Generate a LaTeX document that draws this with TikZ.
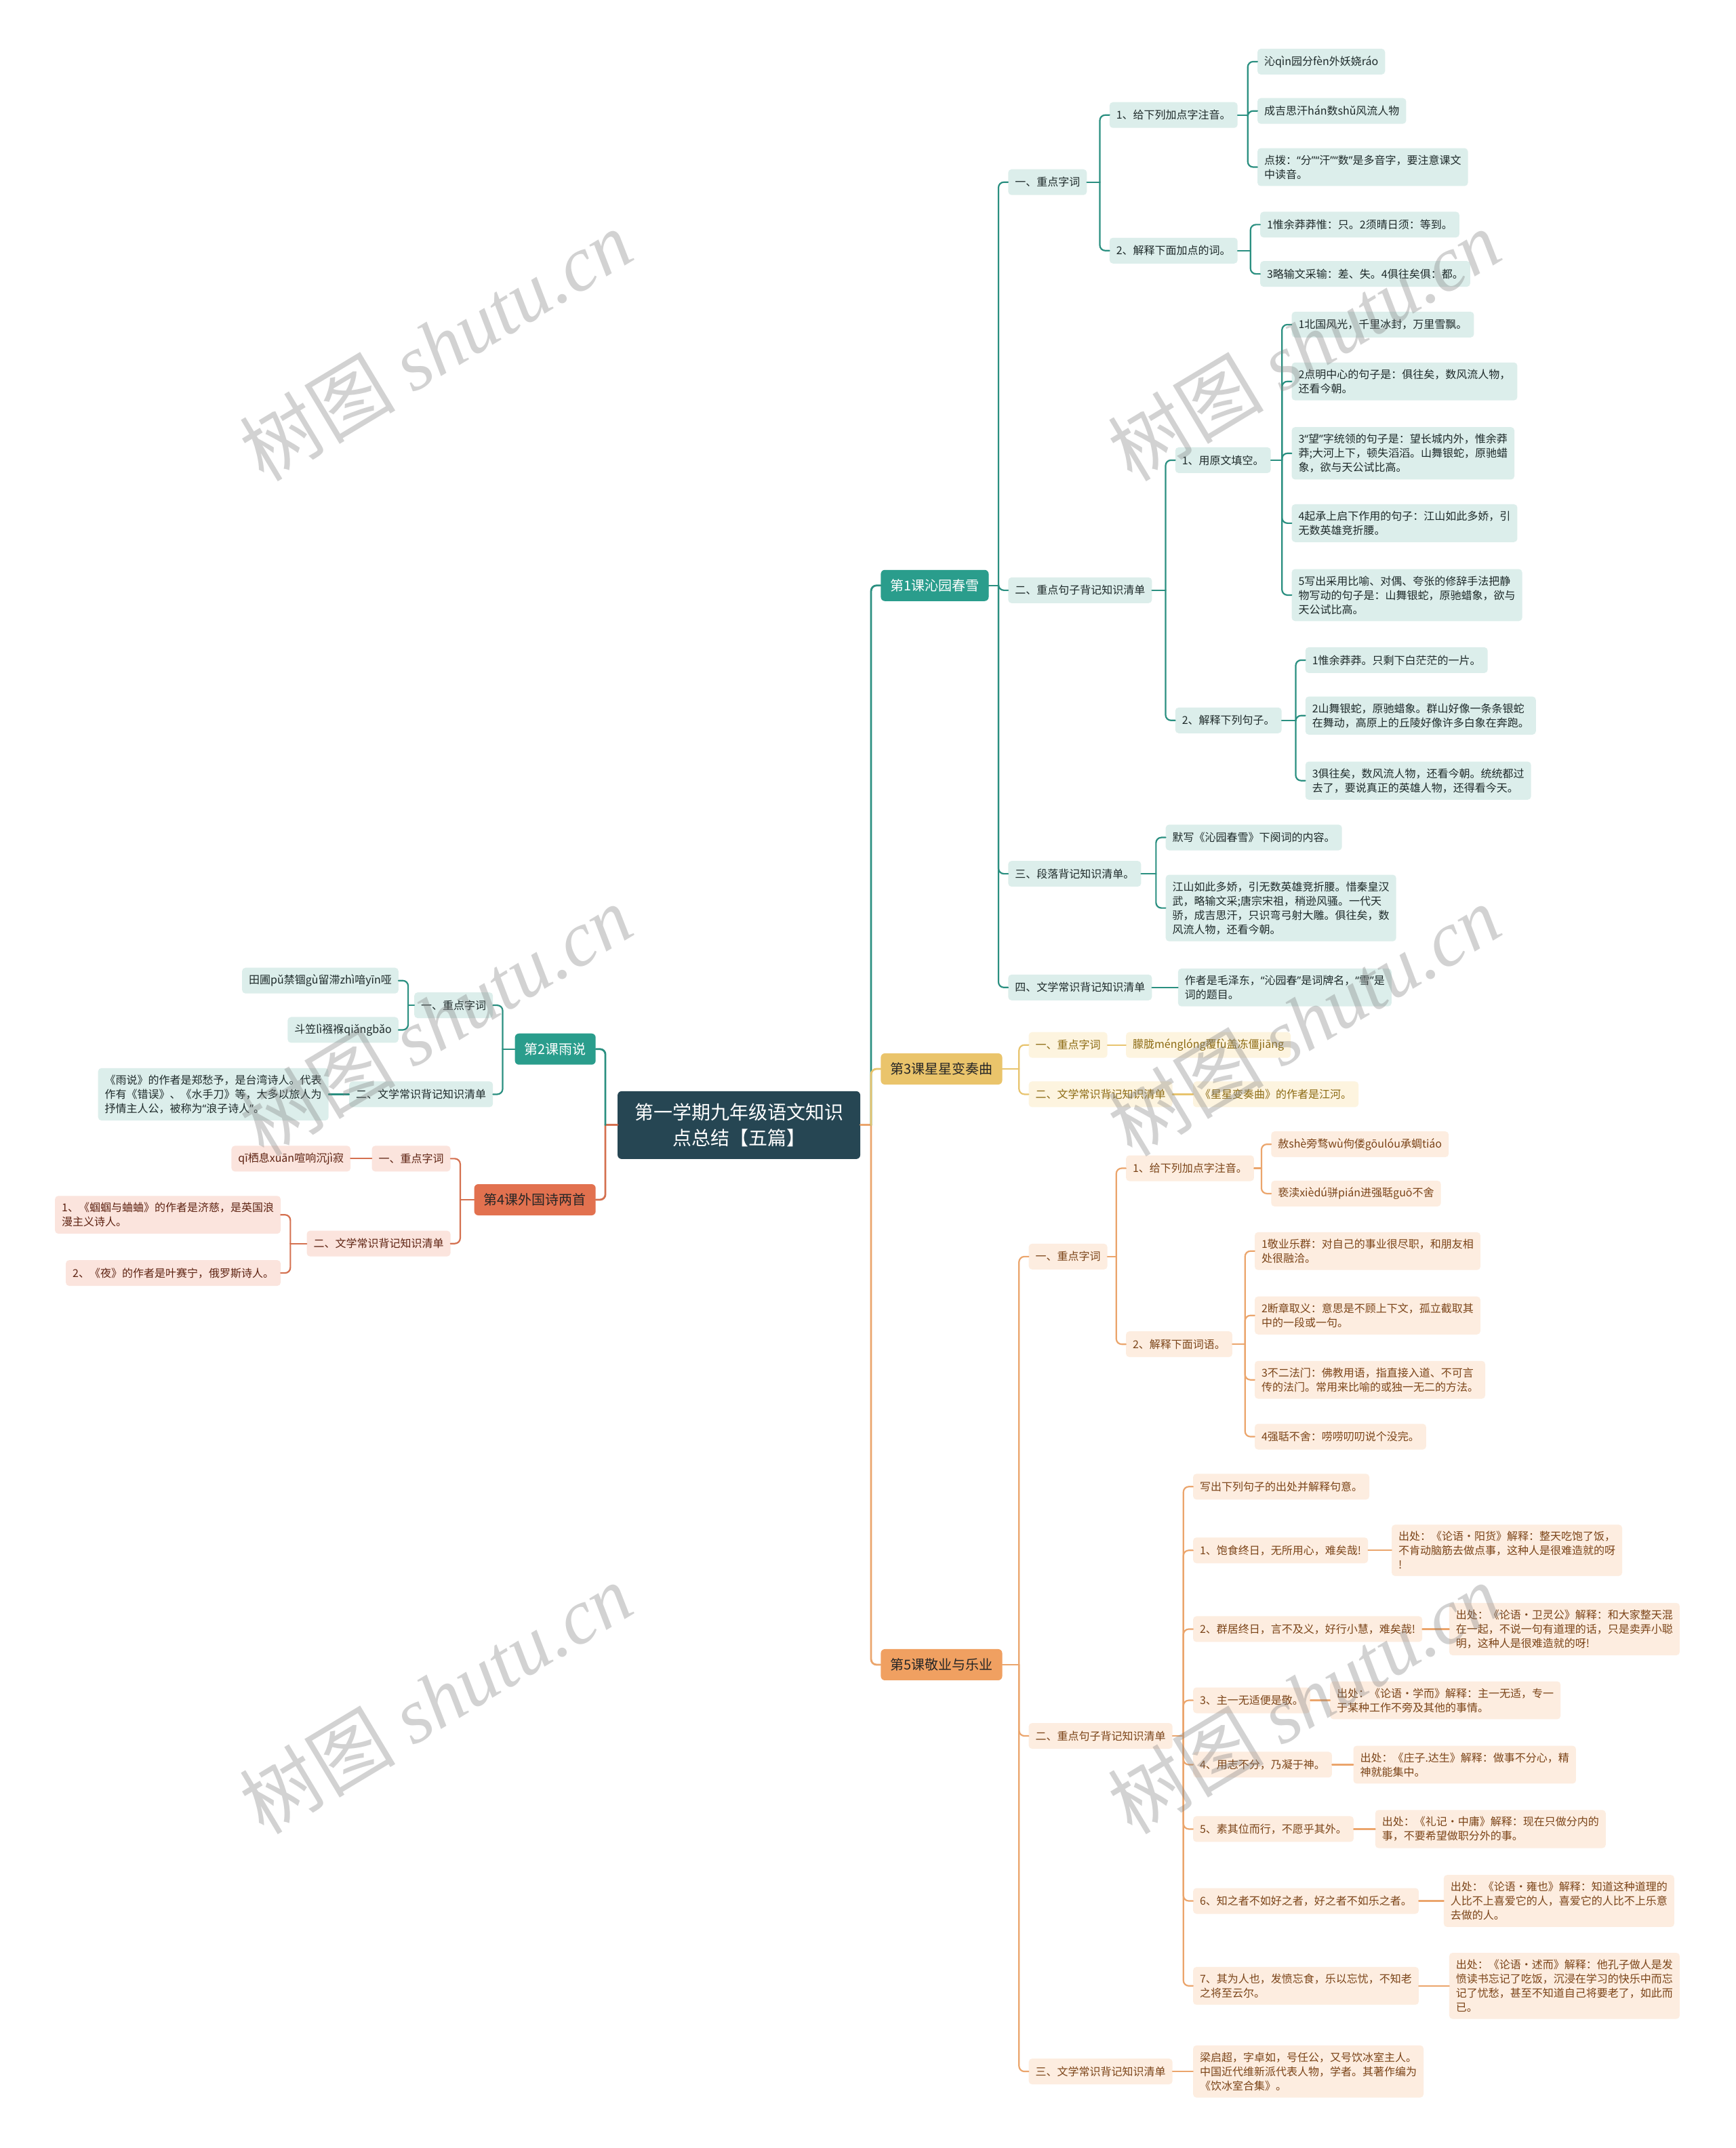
\documentclass[tikz,border=0pt]{standalone}
\usepackage{fontspec}
\setmainfont{Noto Sans CJK SC}
\newfontfamily\wmserif{Liberation Serif}
\newfontfamily\qfont{Noto Sans}
\newcommand\oq{{\qfont “}}
\newcommand\cq{{\qfont ”}}
\definecolor{rootc}{HTML}{264653}
\definecolor{tealM}{HTML}{2A9D8C}
\definecolor{tealL}{HTML}{2A8F80}
\definecolor{tealF}{HTML}{DCEEEB}
\definecolor{tealT}{HTML}{1E2A2A}
\definecolor{goldM}{HTML}{EAC46B}
\definecolor{goldL}{HTML}{E8C46E}
\definecolor{goldF}{HTML}{FDF4DF}
\definecolor{goldT}{HTML}{8C6A12}
\definecolor{redM}{HTML}{E2714F}
\definecolor{redL}{HTML}{D4704F}
\definecolor{redF}{HTML}{FBE4DD}
\definecolor{redT}{HTML}{5E2312}
\definecolor{orM}{HTML}{F0A061}
\definecolor{orL}{HTML}{EBA56C}
\definecolor{orF}{HTML}{FDEDE0}
\definecolor{orT}{HTML}{7B4418}
\newcommand\rbus[3]{\path (#3.west) ++(-7,0) coordinate (#2X); \draw[#1] (#2.east) -- (#2.east -| #2X) coordinate (#2B);}
\newcommand\rkid[3]{\draw[#1,rounded corners=8pt] (#2B) |- (#3.west);}
\newcommand\lbus[3]{\path (#3.east) ++(7,0) coordinate (#2X); \draw[#1] (#2.west) -- (#2.west -| #2X) coordinate (#2B);}
\newcommand\lkid[3]{\draw[#1,rounded corners=8pt] (#2B) |- (#3.east);}
\newcommand\rone[3]{\draw[#1] (#2.east) -- (#3.west);}
\newcommand\lone[3]{\draw[#1] (#2.west) -- (#3.east);}
\begin{document}
\begin{tikzpicture}[x=2.0205pt,y=-2.0205pt,
 nbase/.style={rounded corners=5pt, inner xsep=10pt, inner ysep=10pt, minimum height=38pt, align=left, font=\fontsize{16}{21}\selectfont},
 tbox/.style={nbase, fill=tealF, text=tealT},
 gbox/.style={nbase, fill=goldF, text=goldT},
 rbox/.style={nbase, fill=redF, text=redT},
 obox/.style={nbase, fill=orF, text=orT},
 mainbox/.style={rounded corners=6pt, inner xsep=14pt, minimum height=46pt, font=\fontsize{20}{24}\selectfont},
 rootbox/.style={rounded corners=6pt, fill=rootc, text=white, align=center, minimum width=358pt, minimum height=100pt, font=\fontsize{28}{38}\selectfont},
 aw/.style={anchor=west}, ae/.style={anchor=east},
 tline/.style={draw=tealL, line width=2.2pt, line cap=round},
 gline/.style={draw=goldL, line width=2.2pt, line cap=round},
 rline/.style={draw=redL, line width=2.2pt, line cap=round},
 oline/.style={draw=orL, line width=2.2pt, line cap=round},
 wm/.style={rotate=31, text=gray, opacity=0.35}
]
\fill[white] (0,0) rectangle (1267,1568.4);
\useasboundingbox (0,0) rectangle (1267,1568.4);

% root
\node[rootbox] (root) at (539.5,821.5) {第一学期九年级语文知识\\点总结【五篇】};

% lessons
\node[mainbox, aw, fill=tealM, text=white] (L1) at (643,427.5) {第1课沁园春雪};
\node[mainbox, aw, fill=goldM, text=black!85] (L3) at (643,780.5) {第3课星星变奏曲};
\node[mainbox, aw, fill=orM, text=black!85] (L5) at (643,1215.5) {第5课敬业与乐业};
\node[mainbox, ae, fill=tealM, text=white] (L2) at (435,766) {第2课雨说};
\node[mainbox, ae, fill=redM, text=black!85] (L4) at (435,876) {第4课外国诗两首};

% ---- Lesson 1
\node[tbox,aw] (a1) at (736,133) {一、重点字词};
\node[tbox,aw] (a2) at (736,431) {二、重点句子背记知识清单};
\node[tbox,aw] (a3) at (736,638) {三、段落背记知识清单。};
\node[tbox,aw] (a4) at (736,721) {四、文学常识背记知识清单};
\node[tbox,aw] (aa) at (810,84) {1、给下列加点字注音。};
\node[tbox,aw] (ab) at (810,183) {2、解释下面加点的词。};
\node[tbox,aw] (aaa) at (918,45) {沁qìn园分fèn外妖娆ráo};
\node[tbox,aw] (aab) at (918,81) {成吉思汗hán数shǔ风流人物};
\node[tbox,aw] (aac) at (918,122) {点拨：\oq 分\cq\oq 汗\cq\oq 数\cq 是多音字，要注意课文\\中读音。};
\node[tbox,aw] (aba) at (920,164) {1惟余莽莽惟：只。2须晴日须：等到。};
\node[tbox,aw] (abb) at (920,200) {3略输文采输：差、失。4俱往矣俱：都。};
\node[tbox,aw] (ba) at (858,336) {1、用原文填空。};
\node[tbox,aw] (bb) at (858,526) {2、解释下列句子。};
\node[tbox,aw] (baa) at (943,237) {1北国风光，千里冰封，万里雪飘。};
\node[tbox,aw] (bab) at (943,278.5) {2点明中心的句子是：俱往矣，数风流人物，\\还看今朝。};
\node[tbox,aw] (bac) at (943,331) {3\oq 望\cq 字统领的句子是：望长城内外，惟余莽\\莽;大河上下，顿失滔滔。山舞银蛇，原驰蜡\\象，欲与天公试比高。};
\node[tbox,aw] (bad) at (943,382) {4起承上启下作用的句子：江山如此多娇，引\\无数英雄竞折腰。};
\node[tbox,aw] (bae) at (943,434.5) {5写出采用比喻、对偶、夸张的修辞手法把静\\物写动的句子是：山舞银蛇，原驰蜡象，欲与\\天公试比高。};
\node[tbox,aw] (bba) at (953,482) {1惟余莽莽。只剩下白茫茫的一片。};
\node[tbox,aw] (bbb) at (953,522.5) {2山舞银蛇，原驰蜡象。群山好像一条条银蛇\\在舞动，高原上的丘陵好像许多白象在奔跑。};
\node[tbox,aw] (bbc) at (953,570) {3俱往矣，数风流人物，还看今朝。统统都过\\去了，要说真正的英雄人物，还得看今天。};
\node[tbox,aw] (ca) at (851,611.5) {默写《沁园春雪》下阕词的内容。};
\node[tbox,aw] (cb) at (851,663) {江山如此多娇，引无数英雄竞折腰。惜秦皇汉\\武，略输文采;唐宗宋祖，稍逊风骚。一代天\\骄，成吉思汗，只识弯弓射大雕。俱往矣，数\\风流人物，还看今朝。};
\node[tbox,aw] (da) at (860,721) {作者是毛泽东，\oq 沁园春\cq 是词牌名，\oq 雪\cq 是\\词的题目。};

% ---- Lesson 3
\node[gbox,aw] (g1) at (751,763) {一、重点字词};
\node[gbox,aw] (g2) at (751,799) {二、文学常识背记知识清单};
\node[gbox,aw] (g1a) at (822,763) {朦胧ménglóng覆fù盖冻僵jiāng};
\node[gbox,aw] (g2a) at (871,799) {《星星变奏曲》的作者是江河。};

% ---- Lesson 5
\node[obox,aw] (o1) at (751,917.5) {一、重点字词};
\node[obox,aw] (o2) at (751,1267.5) {二、重点句子背记知识清单};
\node[obox,aw] (o3) at (751,1512.5) {三、文学常识背记知识清单};
\node[obox,aw] (oa) at (822,853) {1、给下列加点字注音。};
\node[obox,aw] (ob) at (822,981.5) {2、解释下面词语。};
\node[obox,aw] (oaa) at (928,835.5) {赦shè旁骛wù佝偻gōulóu承蜩tiáo};
\node[obox,aw] (oab) at (928,871.5) {亵渎xièdú骈pián进强聒guō不舍};
\node[obox,aw] (oba) at (916,913.5) {1敬业乐群：对自己的事业很尽职，和朋友相\\处很融洽。};
\node[obox,aw] (obb) at (916,960.5) {2断章取义：意思是不顾上下文，孤立截取其\\中的一段或一句。};
\node[obox,aw] (obc) at (916,1007.5) {3不二法门：佛教用语，指直接入道、不可言\\传的法门。常用来比喻的或独一无二的方法。};
\node[obox,aw] (obd) at (916,1049) {4强聒不舍：唠唠叨叨说个没完。};
\node[obox,aw] (pa) at (871,1085.5) {写出下列句子的出处并解释句意。};
\node[obox,aw] (pb) at (871,1132) {1、饱食终日，无所用心，难矣哉!};
\node[obox,aw] (pc) at (871,1189.5) {2、群居终日，言不及义，好行小慧，难矣哉!};
\node[obox,aw] (pd) at (871,1241.5) {3、主一无适便是敬。};
\node[obox,aw] (pe) at (871,1288.5) {4、用志不分，乃凝于神。};
\node[obox,aw] (pf) at (871,1335.5) {5、素其位而行，不愿乎其外。};
\node[obox,aw] (pg) at (871,1388) {6、知之者不如好之者，好之者不如乐之者。};
\node[obox,aw] (ph) at (871,1450) {7、其为人也，发愤忘食，乐以忘忧，不知老\\之将至云尔。};
\node[obox,aw] (pb1) at (1016,1132) {出处：《论语•阳货》解释：整天吃饱了饭，\\不肯动脑筋去做点事，这种人是很难造就的呀\\!};
\node[obox,aw] (pc1) at (1058,1189.5) {出处：《论语•卫灵公》解释：和大家整天混\\在一起，不说一句有道理的话，只是卖弄小聪\\明，这种人是很难造就的呀!};
\node[obox,aw] (pd1) at (971,1241.5) {出处：《论语•学而》解释：主一无适，专一\\于某种工作不旁及其他的事情。};
\node[obox,aw] (pe1) at (988,1288.5) {出处：《庄子.达生》解释：做事不分心，精\\神就能集中。};
\node[obox,aw] (pf1) at (1004,1335.5) {出处：《礼记•中庸》解释：现在只做分内的\\事，不要希望做职分外的事。};
\node[obox,aw] (pg1) at (1054,1388) {出处：《论语•雍也》解释：知道这种道理的\\人比不上喜爱它的人，喜爱它的人比不上乐意\\去做的人。};
\node[obox,aw] (ph1) at (1058,1450) {出处：《论语•述而》解释：他孔子做人是发\\愤读书忘记了吃饭，沉浸在学习的快乐中而忘\\记了忧愁，甚至不知道自己将要老了，如此而\\已。};
\node[obox,aw] (qa) at (871,1512.5) {梁启超，字卓如，号任公，又号饮冰室主人。\\中国近代维新派代表人物，学者。其著作编为\\《饮冰室合集》。};

% ---- Lesson 2 (left)
\node[tbox,ae] (s1) at (360,734) {一、重点字词};
\node[tbox,ae] (s2) at (360,799) {二、文学常识背记知识清单};
\node[tbox,ae] (s1a) at (291,716) {田圃pǔ禁锢gù留滞zhì喑yīn哑};
\node[tbox,ae] (s1b) at (291,752) {斗笠lì襁褓qiǎngbǎo};
\node[tbox,ae] (s2a) at (240,799) {《雨说》的作者是郑愁予，是台湾诗人。代表\\作有《错误》、《水手刀》等，大多以旅人为\\抒情主人公，被称为\oq 浪子诗人\cq。};

% ---- Lesson 4 (left)
\node[rbox,ae] (r1) at (329,846) {一、重点字词};
\node[rbox,ae] (r2) at (329,908) {二、文学常识背记知识清单};
\node[rbox,ae] (r1a) at (256,846) {qī栖息xuān喧响沉jì寂};
\node[rbox,ae] (r2a) at (205,887) {1、《蝈蝈与蛐蛐》的作者是济慈，是英国浪\\漫主义诗人。};
\node[rbox,ae] (r2b) at (205,929.5) {2、《夜》的作者是叶赛宁，俄罗斯诗人。};

% ---- connectors: root
\rbus{oline,line width=2.8pt}{root}{L1}
\rkid{oline,line width=2.8pt}{root}{L5}
\rkid{tline,line width=2.8pt}{root}{L1}
\rkid{gline,line width=2.8pt}{root}{L3}
\lbus{rline,line width=2.8pt}{root}{L2}
\lkid{rline,line width=2.8pt}{root}{L4}
\lkid{tline,line width=2.8pt}{root}{L2}

% lesson 1
\rbus{tline}{L1}{a1}
\rkid{tline}{L1}{a1} \rkid{tline}{L1}{a2} \rkid{tline}{L1}{a3} \rkid{tline}{L1}{a4}
\rbus{tline}{a1}{aa}
\rkid{tline}{a1}{aa} \rkid{tline}{a1}{ab}
\rbus{tline}{aa}{aaa}
\rkid{tline}{aa}{aaa} \rkid{tline}{aa}{aab} \rkid{tline}{aa}{aac}
\rbus{tline}{ab}{aba}
\rkid{tline}{ab}{aba} \rkid{tline}{ab}{abb}
\rbus{tline}{a2}{ba}
\rkid{tline}{a2}{ba} \rkid{tline}{a2}{bb}
\rbus{tline}{ba}{baa}
\rkid{tline}{ba}{baa} \rkid{tline}{ba}{bab} \rkid{tline}{ba}{bac} \rkid{tline}{ba}{bad} \rkid{tline}{ba}{bae}
\rbus{tline}{bb}{bba}
\rkid{tline}{bb}{bba} \rkid{tline}{bb}{bbb} \rkid{tline}{bb}{bbc}
\rbus{tline}{a3}{ca}
\rkid{tline}{a3}{ca} \rkid{tline}{a3}{cb}
\rone{tline}{a4}{da}

% lesson 3
\rbus{gline}{L3}{g1}
\rkid{gline}{L3}{g1} \rkid{gline}{L3}{g2}
\rone{gline}{g1}{g1a}
\rone{gline}{g2}{g2a}

% lesson 5
\rbus{oline}{L5}{o1}
\rkid{oline}{L5}{o1} \rkid{oline}{L5}{o2} \rkid{oline}{L5}{o3}
\rbus{oline}{o1}{oa}
\rkid{oline}{o1}{oa} \rkid{oline}{o1}{ob}
\rbus{oline}{oa}{oaa}
\rkid{oline}{oa}{oaa} \rkid{oline}{oa}{oab}
\rbus{oline}{ob}{oba}
\rkid{oline}{ob}{oba} \rkid{oline}{ob}{obb} \rkid{oline}{ob}{obc} \rkid{oline}{ob}{obd}
\rbus{oline}{o2}{pa}
\rkid{oline}{o2}{pa} \rkid{oline}{o2}{pb} \rkid{oline}{o2}{pc} \rkid{oline}{o2}{pd}
\rkid{oline}{o2}{pe} \rkid{oline}{o2}{pf} \rkid{oline}{o2}{pg} \rkid{oline}{o2}{ph}
\rone{oline}{pb}{pb1} \rone{oline}{pc}{pc1} \rone{oline}{pd}{pd1} \rone{oline}{pe}{pe1}
\rone{oline}{pf}{pf1} \rone{oline}{pg}{pg1} \rone{oline}{ph}{ph1}
\rone{oline}{o3}{qa}

% lesson 2
\lbus{tline}{L2}{s1}
\lkid{tline}{L2}{s1} \lkid{tline}{L2}{s2}
\lbus{tline}{s1}{s1a}
\lkid{tline}{s1}{s1a} \lkid{tline}{s1}{s1b}
\lone{tline}{s2}{s2a}

% lesson 4
\lbus{rline}{L4}{r1}
\lkid{rline}{L4}{r1} \lkid{rline}{L4}{r2}
\lone{rline}{r1}{r1a}
\lbus{rline}{r2}{r2a}
\lkid{rline}{r2}{r2a} \lkid{rline}{r2}{r2b}

% watermarks
\foreach \wx/\wy [count=\wi] in {318/252,952/252,318/745,952/745,318/1240,952/1240}
  \node[wm, font=\fontsize{115}{115}\selectfont] (wm\wi) at (\wx,\wy) {树图 {\wmserif\itshape shutu.cn}};
\end{tikzpicture}
\end{document}
